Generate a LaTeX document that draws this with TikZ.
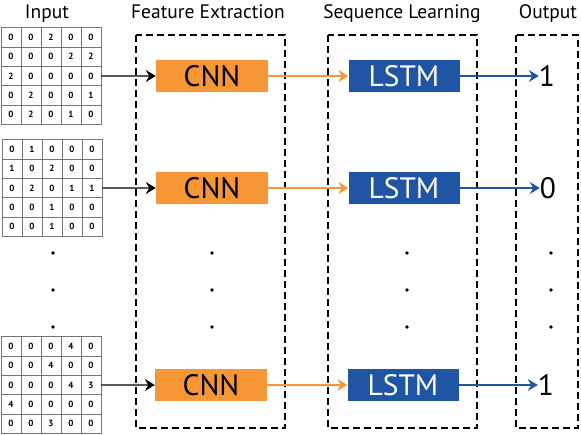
\documentclass[tikz,border=0pt]{standalone}
\usepackage{fontspec}
\setmainfont{PT Sans}
\usepackage{tikz}
\usetikzlibrary{positioning,matrix,arrows.meta}

\definecolor{cnnorange}{RGB}{247,150,52}
\definecolor{lstmblue}{RGB}{32,84,164}

\begin{document}
\begin{tikzpicture}[x=1pt,y=-1pt,node distance=192pt,
    head/.style={anchor=base,font=\fontsize{19.5}{19.5}\selectfont},
    cnn/.style={fill=cnnorange,minimum width=112pt,minimum height=32pt,inner sep=0pt,font=\fontsize{29.5}{29.5}\selectfont},
    lstm/.style={fill=lstmblue,text=white,minimum width=111pt,minimum height=32pt,inner sep=0pt,font=\fontsize{29.5}{29.5}\selectfont},
    outnum/.style={inner sep=0pt,font=\fontsize{29.5}{29.5}\selectfont},
    inmat/.style={matrix of nodes,column sep=-0.7pt,row sep=-0.7pt,
        nodes={draw=black!55,line width=0.7pt,minimum width=20pt,minimum height=19.3pt,inner sep=0pt,font=\fontsize{9}{9}\selectfont\bfseries}},
    stage/.style={draw,line width=1.5pt,dash pattern=on 7pt off 4pt},
    inarrow/.style={draw,line width=1.4pt,-{Stealth[length=10pt,width=12pt,inset=3.5pt]}},
    cnnarrow/.style={draw=cnnorange,line width=1.3pt,-{Stealth[length=10pt,width=12pt,inset=3.5pt]}},
    lstmarrow/.style={draw=lstmblue,line width=1.3pt,-{Stealth[length=10pt,width=12pt,inset=3.5pt]}}]
    \useasboundingbox (0,0) rectangle (581,434);

    % column titles
    \node[head] (tin) at (47,18) {Input};
    \node[head] (tfe) at (208,18) {Feature Extraction};
    \node[head] (tsl) at (402,18) {Sequence Learning};
    \node[head] (tout) at (548,18) {Output};

    % dashed stages
    \draw[stage] (136,35) rectangle (285,428);
    \draw[stage] (328,35) rectangle (477,428);
    \draw[stage] (516,35) rectangle (578,428);

    % input matrices
    \matrix[inmat] (m1) at (51,76) {
        0 & 0 & 2 & 0 & 0 \\
        0 & 0 & 0 & 2 & 2 \\
        2 & 0 & 0 & 0 & 0 \\
        0 & 2 & 0 & 0 & 1 \\
        0 & 2 & 0 & 1 & 0 \\
    };
    \matrix[inmat] (m2) at (52,188) {
        0 & 1 & 0 & 0 & 0 \\
        1 & 0 & 2 & 0 & 0 \\
        0 & 2 & 0 & 1 & 1 \\
        0 & 0 & 1 & 0 & 0 \\
        0 & 0 & 1 & 0 & 0 \\
    };
    \matrix[inmat] (m3) at (51,385) {
        0 & 0 & 0 & 4 & 0 \\
        0 & 0 & 4 & 0 & 0 \\
        0 & 0 & 0 & 4 & 3 \\
        4 & 0 & 0 & 0 & 0 \\
        0 & 0 & 3 & 0 & 0 \\
    };

    % CNN, LSTM and outputs
    \node[cnn] (cnn1) at (212,76) {CNN};
    \node[cnn] (cnn2) at (212,188) {CNN};
    \node[cnn] (cnn3) at (211,385) {CNN};
    \node[lstm, right of=cnn1] (lstm1) {LSTM};
    \node[lstm, right of=cnn2] (lstm2) {LSTM};
    \node[lstm, right of=cnn3] (lstm3) {LSTM};
    \node[outnum, right of=lstm1, node distance=143pt] (out1) {1};
    \node[outnum, right of=lstm2, node distance=144pt] (out2) {0};
    \node[outnum, right of=lstm3, node distance=143pt] (out3) {1};

    \path[inarrow] (m1-3-5.east) -- (cnn1.west);
    \path[inarrow] (m2-3-5.east) -- (cnn2.west);
    \path[inarrow] (m3-3-5.east) -- (cnn3.west);
    \path[cnnarrow] (cnn1) -- (lstm1);
    \path[cnnarrow] (cnn2) -- (lstm2);
    \path[cnnarrow] (cnn3) -- (lstm3);
    \path[lstmarrow] (lstm1) -- (out1);
    \path[lstmarrow] (lstm2) -- (out2);
    \path[lstmarrow] (lstm3) -- (out3);

    % dots
    \foreach \x in {53,212,407,551}
        \foreach \y in {253,290,327}
            \fill (\x,\y) circle (1.8pt);
\end{tikzpicture}
\end{document}
